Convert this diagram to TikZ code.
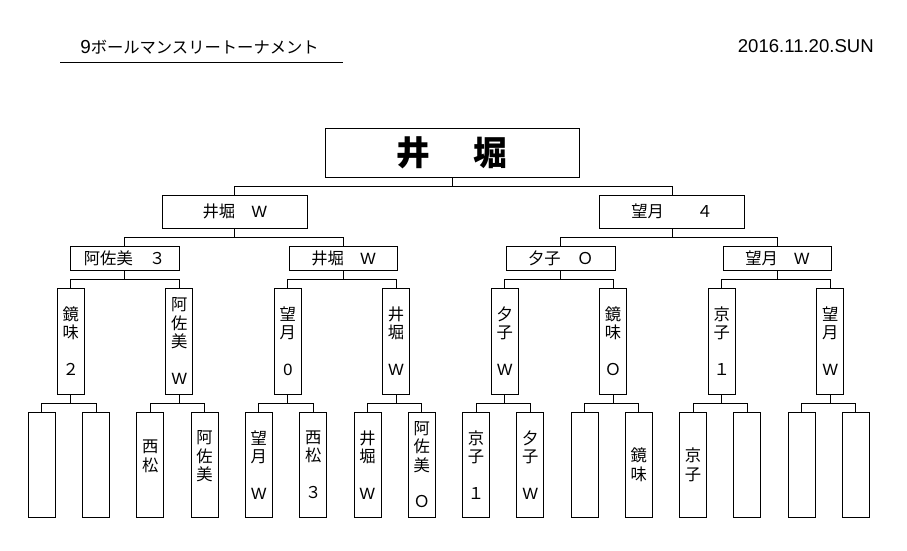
\documentclass[tikz,border=0pt]{standalone}
\usepackage{fontspec}
\setmainfont{Liberation Sans}
\newfontfamily\jp{Noto Sans CJK JP}
\usetikzlibrary{calc}
\begin{document}
\begin{tikzpicture}[x=0.25mm,y=-0.25mm,
		waku/.style={draw,line width=0.6pt,inner sep=0pt,font=\jp\fontsize{11.6}{13}\selectfont},
		yoko/.style={waku,minimum width=27.2mm,minimum height=6mm},
		tate/.style={waku,minimum width=6.75mm,align=center},
		sen/.style={line width=0.6pt}]
	\useasboundingbox (0,0) rectangle (907,551);
	% title and date
	\node[anchor=west,inner sep=0pt,font=\fontsize{13.4}{16}\selectfont] (title) at (80,47) {9{\jp\fontsize{11.6}{13}\selectfont ボールマンスリートーナメント}};
	\draw[sen] (60,62.7) -- (343,62.7);
	\node[anchor=east,inner sep=0pt,font=\fontsize{13.2}{16}\selectfont] (date) at (874,46) {2016.11.20.SUN};
	% winner and final
	\node[waku,minimum width=63.5mm,minimum height=12.25mm,font=\jp\bfseries\fontsize{24}{28}\selectfont] (yusho) at (452,152.5) {井\hspace{1.3em}堀};
	\node[waku,minimum width=36.25mm,minimum height=8.25mm] (k1) at (234.8,211.7) {井堀　{\rmfamily W}};
	\node[waku,minimum width=36.25mm,minimum height=8.25mm] (k2) at (672.2,211.7) {望月　　４};
	% semi final
	\node[yoko] (j1) at (124.7,258.3) {阿佐美　３};
	\node[yoko] (j2) at (343.5,258.3) {井堀　{\rmfamily W}};
	\node[yoko] (j3) at (560.7,258.3) {夕子　Ｏ};
	\node[yoko] (j4) at (777.4,258.3) {望月　{\rmfamily W}};
	% second round
	\foreach \n/\x/\t in {1/70.7/{鏡\\味\\\mbox{}\\２},2/179.2/{阿\\佐\\美\\\mbox{}\\{\rmfamily W}},
			3/287.8/{望\\月\\\mbox{}\\{\rmfamily 0}},4/396/{井\\堀\\\mbox{}\\{\rmfamily W}},
			5/504.7/{夕\\子\\\mbox{}\\{\rmfamily W}},6/613/{鏡\\味\\\mbox{}\\Ｏ},
			7/721.7/{京\\子\\\mbox{}\\１},8/830.2/{望\\月\\\mbox{}\\{\rmfamily W}}}
		\node[tate,minimum height=26.5mm] (b\n) at (\x,341) {\t};
	% first round
	\foreach \n/\t in {1/{},2/{},3/{西\\松\\\mbox{}},4/{阿\\佐\\美\\\mbox{}},
			5/{望\\月\\\mbox{}\\{\rmfamily W}},6/{西\\松\\\mbox{}\\３},7/{井\\堀\\\mbox{}\\{\rmfamily W}},
			8/{阿\\佐\\美\\\mbox{}\\Ｏ},9/{京\\子\\\mbox{}\\１},10/{夕\\子\\\mbox{}\\{\rmfamily W}},
			11/{},12/{鏡\\味},13/{京\\子},14/{},15/{},16/{}}
		\node[tate,minimum height=26.25mm] (a\n) at ({41.8+54.27*(\n-1)},464.8) {\t};
	% lines
	\foreach \p/\c/\d in {yusho/k1/k2,k1/j1/j2,k2/j3/j4,j1/b1/b2,j2/b3/b4,j3/b5/b6,j4/b7/b8,
			b1/a1/a2,b2/a3/a4,b3/a5/a6,b4/a7/a8,b5/a9/a10,b6/a11/a12,b7/a13/a14,b8/a15/a16}{
		\coordinate (m) at ($(\p.south)!.5!(\c.north)$);
		\draw[sen] (\c.north) |- (m) -| (\d.north);
		\draw[sen] (\p.south) -- (\p.south |- m);
	}
\end{tikzpicture}
\end{document}
